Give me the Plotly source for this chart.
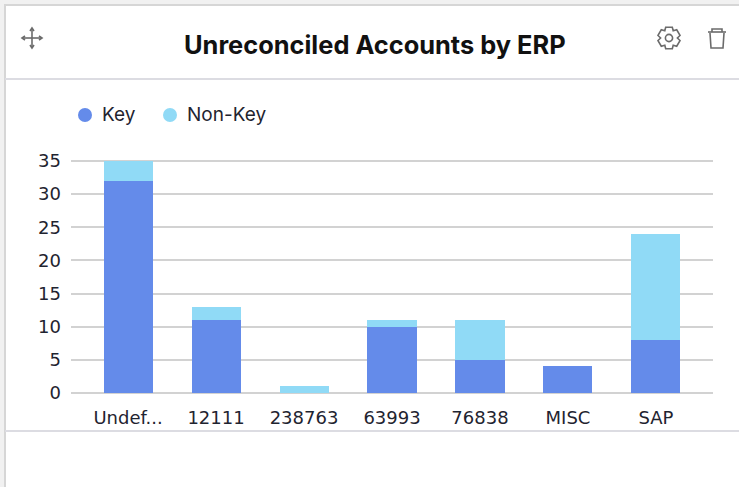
import math
import plotly.graph_objects as go

categories = ["Undef...", "12111", "238763", "63993", "76838", "MISC", "SAP"]
key_values = [32, 11, 0, 10, 5, 4, 8]
non_key_values = [3, 2, 1, 1, 6, 0, 16]
y_ticks = [0, 5, 10, 15, 20, 25, 30, 35]

W, H = 739, 487
FONT = "Inter"
TICK_FONT = "DejaVu Sans"
KEY = "#648bea"
NON = "#90daf6"
TEXT = "#1f2430"
ICON = "#6b6b6b"


def X(x):
    return x / W


def Y(y):
    return 1 - y / H


def path(points, close=False):
    s = "M" + " L".join(f"{X(a):.5f},{Y(b):.5f}" for a, b in points)
    return s + (" Z" if close else "")


def line(x0, y0, x1, y1, color, width=1):
    return dict(type="line", xref="paper", yref="paper", x0=X(x0), x1=X(x1), y0=Y(y0), y1=Y(y1),
                line=dict(color=color, width=width), layer="below")


def stroke(points, close=False, width=1.6):
    return dict(type="path", xref="paper", yref="paper", path=path(points, close),
                line=dict(color=ICON, width=width), layer="above")


def circle(cx, cy, r, fill=None, color=None, width=0):
    return dict(type="circle", xref="paper", yref="paper", x0=X(cx - r), x1=X(cx + r), y0=Y(cy + r), y1=Y(cy - r),
                fillcolor=fill or "rgba(0,0,0,0)", line=dict(color=color or "rgba(0,0,0,0)", width=width), layer="above")


fig = go.Figure()
fig.add_bar(name="Key", x=categories, y=key_values, marker=dict(color=KEY, line=dict(width=0)), showlegend=False)
fig.add_bar(name="Non-Key", x=categories, y=non_key_values, marker=dict(color=NON, line=dict(width=0)), showlegend=False)

shapes = [
    dict(type="rect", xref="paper", yref="paper", x0=X(5), x1=X(745), y0=Y(495), y1=Y(5),
         fillcolor="white", line=dict(color="#d6d6d6", width=2), layer="below"),
    line(5, 79, 739, 79, "#dcdce2", 2),
    line(5, 431, 739, 431, "#dcdce2", 2),
    circle(85, 115, 7, fill=KEY),
    circle(170, 115, 7, fill=NON),
]

# move icon
cx, cy = 32, 38
shapes += [stroke([(cx - 9, cy), (cx + 9, cy)]), stroke([(cx, cy - 9), (cx, cy + 9)])]
shapes += [stroke([(cx - 7, cy - 2), (cx - 10, cy), (cx - 7, cy + 2)]), stroke([(cx + 7, cy - 2), (cx + 10, cy), (cx + 7, cy + 2)]),
           stroke([(cx - 2, cy - 7), (cx, cy - 10), (cx + 2, cy - 7)]), stroke([(cx - 2, cy + 7), (cx, cy + 10), (cx + 2, cy + 7)])]

# gear icon
cx, cy = 669, 38
gear = []
for i in range(6):
    a = math.radians(60 * i - 90)
    for da, r in [(-17, 11.3), (17, 11.3), (30, 8.4)]:
        gear.append((cx + r * math.cos(a + math.radians(da)), cy + r * math.sin(a + math.radians(da))))
shapes += [stroke(gear, True), circle(cx, cy, 3.6, color=ICON, width=1.6)]

# trash icon
shapes += [
    stroke([(708, 32), (726, 32)]),
    stroke([(712, 32), (712, 29), (722, 29), (722, 32)]),
    stroke([(710, 33), (711, 48), (723, 48), (724, 33)]),
]

annotations = [
    dict(text="<b>Unreconciled Accounts by ERP</b>", x=X(375), y=Y(45), xref="paper", yref="paper", showarrow=False,
         xanchor="center", yanchor="middle", font=dict(family=FONT, size=25.4, color="#111111")),
    dict(text="Key", x=X(100), y=Y(114), xref="paper", yref="paper", showarrow=False,
         xanchor="left", yanchor="middle", font=dict(family=FONT, size=19, color=TEXT)),
    dict(text="Non-Key", x=X(185), y=Y(114), xref="paper", yref="paper", showarrow=False,
         xanchor="left", yanchor="middle", font=dict(family=FONT, size=19, color=TEXT)),
]

fig.update_layout(
    width=W, height=H, margin=dict(l=0, r=0, t=0, b=0, pad=0, autoexpand=False),
    paper_bgcolor="#f1f1f1", plot_bgcolor="rgba(0,0,0,0)",
    barmode="stack", bargap=0.443, showlegend=False,
    shapes=shapes, annotations=annotations,
    font=dict(family=FONT, size=18, color=TEXT),
    xaxis=dict(domain=[X(71), X(713)], range=[-0.648, 6.648], type="category", categoryorder="array",
               categoryarray=categories, showgrid=False, zeroline=False, showline=False, ticks="",
               tickangle=0, tickfont=dict(family=TICK_FONT, size=18), ticklabelstandoff=12, automargin=False),
    yaxis=dict(domain=[Y(393), Y(159)], range=[0, 35.3], tickvals=y_ticks, showgrid=True, gridcolor="#d2d2d2",
               gridwidth=2, zeroline=True, zerolinecolor="#d2d2d2", zerolinewidth=2, showline=False, ticks="",
               tickfont=dict(family=TICK_FONT, size=18), ticklabelstandoff=9, automargin=False),
)

fig.write_html("out.html", config=dict(displayModeBar=False),
               post_script="document.body.style.margin='0';document.body.style.overflow='hidden';")
